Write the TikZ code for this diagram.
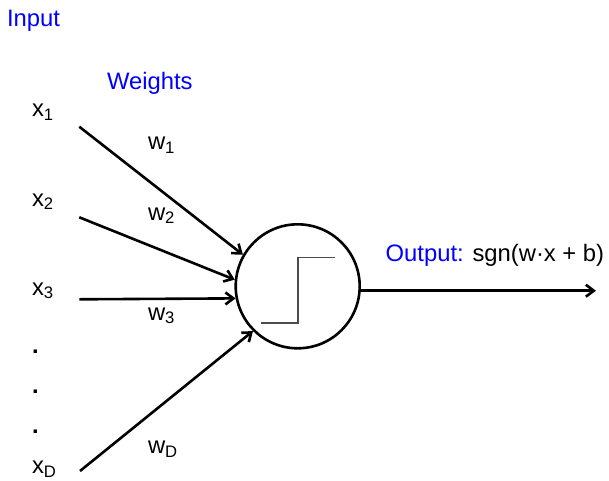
\documentclass[tikz,border=0pt]{standalone}
\usepackage{fontspec}
\setmainfont{Liberation Sans}
\usetikzlibrary{arrows.meta}
\begin{document}
\begin{tikzpicture}[x=1pt,y=-1pt,
  lbl/.style={anchor=base west,inner sep=0pt,outer sep=0pt,font=\fontsize{23.8}{26}\selectfont},
  bluelbl/.style={lbl,text=blue},
  conn/.style={line width=2.6pt,-{Straight Barb[length=8pt,width=12pt,line width=2.6pt]}},
  neuronstyle/.style={circle,draw,line width=2.6pt,minimum size=124pt,inner sep=0pt}]
\useasboundingbox (0,0) rectangle (609,480);
% labels
\node[bluelbl] (input) at (7,26) {Input};
\node[bluelbl] (weights) at (107,89.3) {Weights};
\node[lbl] (x1) at (32,116.7) {x\textsubscript{1}};
\node[lbl] (x2) at (32,206) {x\textsubscript{2}};
\node[lbl] (x3) at (32,295) {x\textsubscript{3}};
\node[lbl] (xD) at (32,473.5) {x\textsubscript{D}};
\node[lbl] (d1) at (32,353) {\textbf{.}};
\node[lbl] (d2) at (32,393) {\textbf{.}};
\node[lbl] (d3) at (32,433) {\textbf{.}};
\node[lbl] (w1) at (148,149.3) {w\textsubscript{1}};
\node[lbl] (w2) at (148,220) {w\textsubscript{2}};
\node[lbl] (w3) at (148,320) {w\textsubscript{3}};
\node[lbl] (wD) at (148,453.3) {w\textsubscript{D}};
\node[lbl] (out) at (385.7,261) {\textcolor{blue}{Output:} sgn(w·x + b)};
% neuron
\node[neuronstyle] (neuron) at (297.7,286.3) {};
\draw[line width=1.6pt,black!70] (261,322.7) -- (297.7,322.7) -- (297.7,257.3) -- (335,257.3);
% arrow start points
\coordinate (s1) at (79.3,126.7);
\coordinate (s2) at (79.3,217.3);
\coordinate (s3) at (79.3,299.3);
\coordinate (sD) at (80,471);
\coordinate (oend) at (596,290.7);
\coordinate (ostart) at (359.5,290.7);
\draw[conn] (s1) -- (neuron.150.8);
\draw[conn] (s2) -- (neuron.174.9);
\draw[conn] (s3) -- (neuron.191.7);
\draw[conn] (sD) -- (neuron.225.6);
\draw[conn] (ostart) -- (oend);
\end{tikzpicture}
\end{document}
